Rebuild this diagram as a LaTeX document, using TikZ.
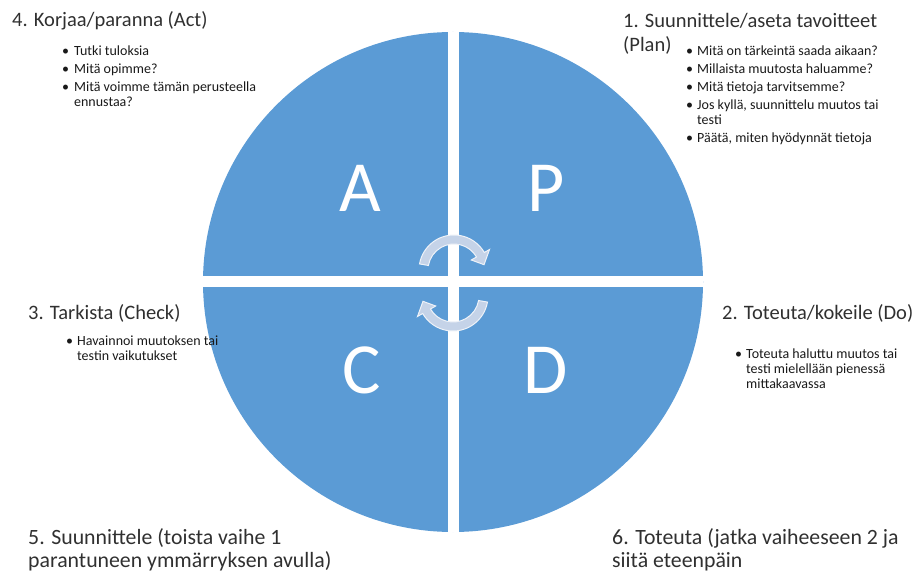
\documentclass[tikz,border=0pt]{standalone}
\usepackage{fontspec}
\setmainfont{Carlito}
\usepackage{xcolor}
\usetikzlibrary{arrows.meta, positioning}

\definecolor{pdcablue}{HTML}{5B9BD5}
\definecolor{turngrey}{HTML}{C5D3E8}
\definecolor{titlegrey}{HTML}{303030}

\newcommand{\bul}{\textbullet}

\begin{document}
\begin{tikzpicture}[
    x=1pt, y=-1pt,
    title/.style={anchor=base west, inner sep=0pt, text=titlegrey, font=\fontsize{20.5}{24}\selectfont},
    bigtitle/.style={title, font=\fontsize{21.8}{23}\selectfont},
    list/.style={anchor=base west, inner sep=0pt, text=black!90, font=\fontsize{14}{15}\selectfont},
    letter/.style={text=white, inner sep=0pt, font=\fontsize{72}{72}\selectfont},
    cross/.style={white, line width=11pt},
    turn/.style={fill=turngrey, draw=white!70!turngrey, line width=1pt}
]
\useasboundingbox (0,0) rectangle (922,572);

% The wheel
\node[circle, fill=pdcablue, minimum size=500pt, inner sep=0pt] (wheel) at (453,282) {};
\draw[cross] (wheel.north) -- (wheel.south);
\draw[cross] (wheel.west) -- (wheel.east);

% Quarter letters
\node[letter] (A) at (360,188) {A};
\node[letter] (P) at (546,188) {P};
\node[letter] (C) at (362,370) {C};
\node[letter] (D) at (546,370) {D};

% Turning arrows in the middle
\filldraw[turn, shift={(454,270)}] (190:26) -- (190:35)
    arc[start angle=190, end angle=330, radius=35] -- (330:41) -- (350:30.5)
    -- (330:20) -- (330:26) arc[start angle=330, end angle=190, radius=26] -- cycle;
\filldraw[turn, shift={(453,296)}] (10:26) -- (10:35)
    arc[start angle=10, end angle=150, radius=35] -- (150:41) -- (170:30.5)
    -- (150:20) -- (150:26) arc[start angle=150, end angle=10, radius=26] -- cycle;

% Act
\node[title] (act) at (12,27) {4. Korjaa/paranna (Act)};
\node[list] (actlist) at (62,56) {\begin{tabular}[t]{@{}l@{\hspace{5pt}}l@{}}
    \bul & Tutki tuloksia\\[3pt]
    \bul & Mitä opimme?\\[3pt]
    \bul & Mitä voimme tämän perusteella\\
         & ennustaa?
    \end{tabular}};

% Plan
\node[title] (plan) at (623,28) {\begin{tabular}[t]{@{}l@{}}
    1. Suunnittele/aseta tavoitteet\\
    (Plan)
    \end{tabular}};
\node[list] (planlist) at (686,56) {\begin{tabular}[t]{@{}l@{\hspace{4pt}}l@{}}
    \bul & Mitä on tärkeintä saada aikaan?\\[3pt]
    \bul & Millaista muutosta haluamme?\\[3pt]
    \bul & Mitä tietoja tarvitsemme?\\[3pt]
    \bul & Jos kyllä, suunnittelu muutos tai\\
         & testi\\[3pt]
    \bul & Päätä, miten hyödynnät tietoja
    \end{tabular}};

% Check
\node[title] (check) at (28,320) {3. Tarkista (Check)};
\node[list] (checklist) at (66,345) {\begin{tabular}[t]{@{}l@{\hspace{4pt}}l@{}}
    \bul & Havainnoi muutoksen tai\\
         & testin vaikutukset
    \end{tabular}};

% Do
\node[title] (do) at (722,320) {2. Toteuta/kokeile (Do)};
\node[list] (dolist) at (735,359) {\begin{tabular}[t]{@{}l@{\hspace{4pt}}l@{}}
    \bul & Toteuta haluttu muutos tai\\
         & testi mielellään pienessä\\
         & mittakaavassa
    \end{tabular}};

% Next rounds
\node[bigtitle] (again) at (28,544) {\begin{tabular}[t]{@{}l@{}}
    5. Suunnittele (toista vaihe 1\\
    parantuneen ymmärryksen avulla)
    \end{tabular}};
\node[bigtitle] (onward) at (612,544) {\begin{tabular}[t]{@{}l@{}}
    6. Toteuta (jatka vaiheeseen 2 ja\\
    siitä eteenpäin
    \end{tabular}};

\end{tikzpicture}
\end{document}
